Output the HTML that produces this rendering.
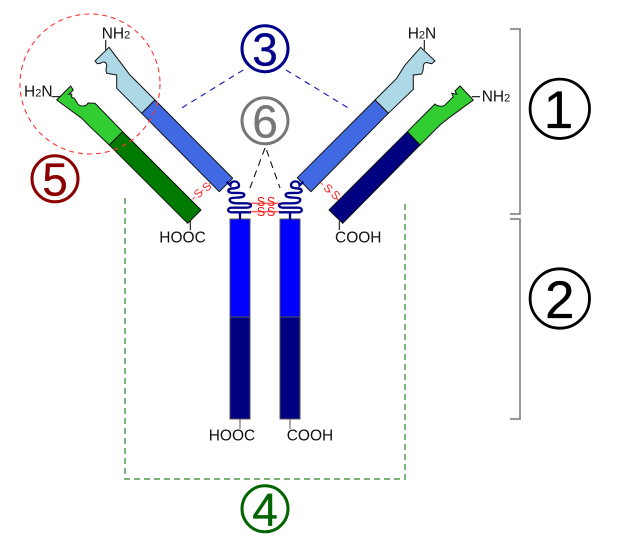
<!DOCTYPE html>
<html>
<head>
<meta charset="utf-8">
<style>
html,body{margin:0;padding:0;background:#fff;width:620px;height:548px;overflow:hidden}
svg{display:block}
text{font-family:"Liberation Sans",sans-serif}
.l{font-size:15.5px;fill:#111}
.s{font-size:11px}
.n{text-anchor:middle;stroke-width:.3}
.ss{font-size:12.500px;fill:#f11;text-anchor:middle}
.sd{font-size:11.500px;fill:#f22;text-anchor:middle}
</style>
</head>
<body>
<svg width="620" height="548" viewBox="0 0 620 548" xmlns="http://www.w3.org/2000/svg">
<rect width="620" height="548" fill="#fff"/>

<!-- brackets -->
<path d="M510,29H520V214H510M510,219H520V419H510" fill="none" stroke="#777" stroke-width="1.5"/>

<!-- green dashed -->
<path d="M125,198V479H405V204" fill="none" stroke="#7ab37a" stroke-width="2" stroke-dasharray="6 4"/>

<!-- blue & black dashed -->
<path d="M243.300,70L180,109M286,70L350,109" fill="none" stroke="#2222bb" stroke-width="1.200" stroke-dasharray="6 5"/>
<path d="M265,148L250,188M266.500,150L280,188" fill="none" stroke="#111" stroke-width="1.100" stroke-dasharray="7 5"/>

<!-- stubs -->
<g stroke="#111" stroke-width="1.100" fill="none">
<path d="M105.700,40V50M51.700,96.700H60M190.300,221V230M424.300,40V50M471.700,96.700H480M339.300,221V230"/>
<path d="M240,419V429M290,419V429" stroke="#666"/>
</g>

<!-- left Fab heavy -->
<path d="M109,47.300L95,61L97.300,63.700L100.700,63.300C103,61 106,62 106.700,64.500C107,67 105,68.500 106.700,73.300L116.700,75V88.300L141.700,113.300L155,100L135,80L130,75L109,47.300Z" fill="#add8e6" stroke="#111" stroke-width="1"/>
<path d="M155,100L232.700,178.300L219.300,191.700L141.700,113.300Z" fill="#4169e1" stroke="#111" stroke-width="1"/>
<!-- left Fab light -->
<path d="M70.700,86L56.700,100L81.700,118.300L90,126.700L109.300,145L122.700,131.700L95,103.300L88,103C86,107.500 78,106.500 77,102.500L74,98L71.700,97.500L71.700,94L68.700,94.300L73.300,90Z" fill="#32cd32" stroke="#111" stroke-width="1"/>
<path d="M122.700,131.700L201,210L187.700,223.300L109.300,145Z" fill="#007a00" stroke="#111" stroke-width="1"/>

<!-- right Fab heavy -->
<path d="M420.700,47.300L435,61L431.700,63.700L428.300,63C425.500,61.500 423,63.500 423.300,68.300C423.300,71 422,73 421.700,74L413.300,75V89.300L388.300,113.300L375,100L396.700,78.300L405,65Z" fill="#add8e6" stroke="#111" stroke-width="1"/>
<path d="M375,100L297.300,177.700L311,191.700L388.300,113.300Z" fill="#4169e1" stroke="#111" stroke-width="1"/>
<!-- right Fab light -->
<path d="M460,86L473.300,100L448.300,118.300L440,125L420,145L407.300,131.700L435,104C438,107 444,106.500 445,105L453.300,96.700L451.700,93.300L456.700,94.300L455,91Z" fill="#32cd32" stroke="#111" stroke-width="1"/>
<path d="M407.300,131.700L329,210L342.700,223.300L420,145Z" fill="#000080" stroke="#111" stroke-width="1"/>

<!-- central chains -->
<g stroke="#555" stroke-width="1">
<rect x="230" y="219" width="20" height="98" fill="#0000ff"/>
<rect x="230" y="317" width="20" height="102" fill="#000080"/>
<rect x="280" y="219" width="20" height="98" fill="#0000ff"/>
<rect x="280" y="317" width="20" height="102" fill="#000080"/>
</g>

<!-- red inter-chain lines -->
<path d="M250,203.300H280M250,211.700H280" stroke="#f66" stroke-width="1.600" fill="none"/>

<!-- hinges -->
<g fill="none" stroke="#00008b" stroke-width="2.200">
<g transform="translate(215,170) scale(.3333)">
<path stroke-width="7" d="M35,35L46,46C46,30 72,30 72,47C72,60 40,50 40,62C40,76 88,62 88,75C88,88 42,78 44,90C46,100 60,100 70,100H95C112,100 112,113 95,113H50C36,113 36,127 50,127H108M75,127V148"/>
</g>
<g transform="translate(315,170) scale(-.3333,.3333)">
<path stroke-width="7" d="M35,35L46,46C46,30 72,30 72,47C72,60 40,50 40,62C40,76 88,62 88,75C88,88 42,78 44,90C46,100 60,100 70,100H95C112,100 112,113 95,113H50C36,113 36,127 50,127H108M75,127V148"/>
</g>
</g>

<!-- SS bonds -->
<text class="ss" x="261" y="206">S</text><text class="ss" x="271" y="206">S</text>
<text class="ss" x="261" y="216">S</text><text class="ss" x="271" y="216">S</text>

<path d="M192.700,199.300L210,183.300" stroke="#f44" stroke-width="1" stroke-dasharray="3 8"/>
<text class="sd" transform="translate(198.300,193.300) rotate(-45)" y="4">S</text>
<text class="sd" transform="translate(206.700,186.700) rotate(-45)" y="4">S</text>
<path d="M320.700,182.700L338.300,200" stroke="#f44" stroke-width="1" stroke-dasharray="3 8"/>
<text class="sd" transform="translate(328.300,188.300) rotate(45)" y="4">S</text>
<text class="sd" transform="translate(335.700,195) rotate(45)" y="4">S</text>

<!-- red circle -->
<circle cx="90" cy="84" r="70" fill="none" stroke="#f33" stroke-width="1.100" stroke-dasharray="5 4"/>

<!-- labels -->
<text class="l" x="101.700" y="38.300">NH<tspan class="s">2</tspan></text>
<text class="l" x="24" y="96.700">H<tspan class="s">2</tspan>N</text>
<text class="l" x="159.300" y="242.300">HOOC</text>
<text class="l" x="407.700" y="38.300">H<tspan class="s">2</tspan>N</text>
<text class="l" x="481.700" y="101.500">NH<tspan class="s">2</tspan></text>
<text class="l" x="335" y="242.700">COOH</text>
<text class="l" x="208.700" y="440.700">HOOC</text>
<text class="l" x="286.700" y="440.700">COOH</text>

<!-- numbered circles -->
<g fill="none" stroke-width="3">
<circle cx="265" cy="48.700" r="23" stroke="#00008b"/>
<circle cx="265" cy="120.800" r="23" stroke="#777"/>
<circle cx="55" cy="178.800" r="23" stroke="#8b0000"/>
<circle cx="265" cy="508.800" r="23" stroke="#006400"/>
<circle cx="559.800" cy="108.800" r="29.700" stroke="#000" stroke-width="2.800"/>
<circle cx="559.800" cy="298.500" r="29.700" stroke="#000" stroke-width="2.800"/>
</g>
<text class="n" x="265" y="65.500" font-size="46" fill="#00008b" stroke="#00008b">3</text>
<text class="n" x="265" y="137.500" font-size="46" fill="#777" stroke="#777">6</text>
<text class="n" x="55" y="195.500" font-size="46" fill="#8b0000" stroke="#8b0000">5</text>
<text class="n" x="265" y="525.500" font-size="46" fill="#006400" stroke="#006400">4</text>
<text class="n" x="558.500" y="128" font-size="53" fill="#000" stroke="#000">1</text>
<text class="n" x="559.800" y="318" font-size="53" fill="#000" stroke="#000">2</text>
</svg>
</body>
</html>
